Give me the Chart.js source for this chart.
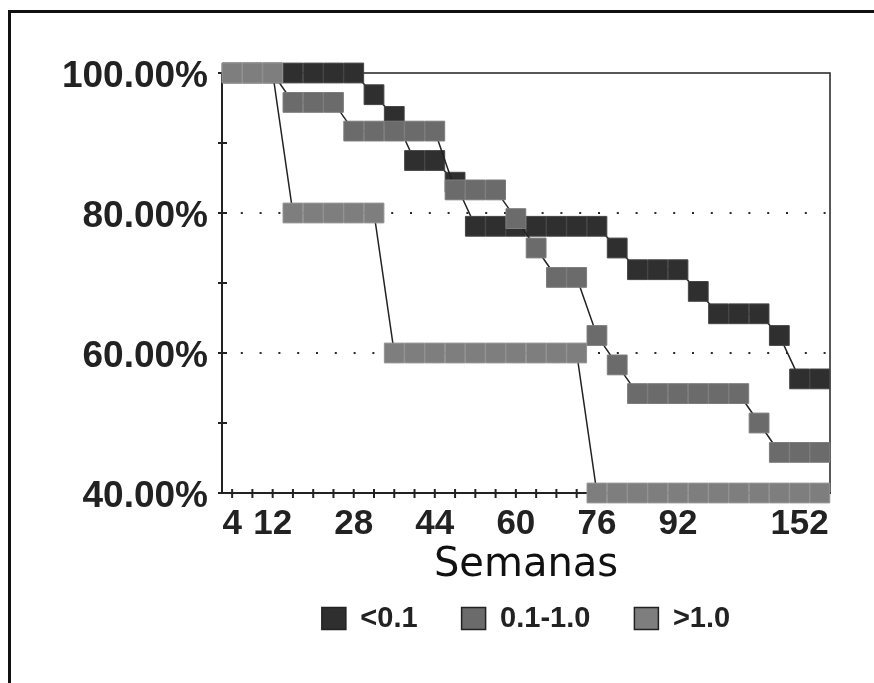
<!DOCTYPE html>
<html><head><meta charset="utf-8">
<script src="https://cdn.jsdelivr.net/npm/chart.js@4.4.1/dist/chart.umd.min.js"></script>
<style>
html,body{margin:0;padding:0;background:#fff;}
#wrap{position:relative;width:874px;height:683px;overflow:hidden;background:#fff;}
#c{position:absolute;left:0;top:0;}
#frame{position:absolute;left:8px;top:10px;width:900px;height:700px;border-top:3px solid #111;border-left:3px solid #111;pointer-events:none;}
</style></head><body>
<div id="wrap"><canvas id="c" width="874" height="683"></canvas><div id="frame"></div></div>
<script>
// Categories (weeks) and tick labels
const weeks = [4,8,12,16,20,24,28,32,36,40,44,48,52,56,60,64,68,72,76,80,84,88,92,102,112,122,132,142,152,162];
const xLabelsShown = ['4','12','28','44','60','76','92','152'];
const yLabelsShown = [40,60,80,100];
const dottedLevels = [60,80];
const seriesNames = ['<0.1','0.1-1.0','>1.0'];

// Series values (% remaining)
const lt01 = [100,100,100,100,100,100,100,96.9,93.8,87.5,87.5,84.4,78.1,78.1,78.1,78.1,78.1,78.1,78.1,75,71.9,71.9,71.9,68.8,65.6,65.6,65.6,62.5,56.3,56.3];
const mid  = [100,100,100,95.8,95.8,95.8,91.7,91.7,91.7,91.7,91.7,83.3,83.3,83.3,79.2,75,70.8,70.8,62.5,58.3,54.2,54.2,54.2,54.2,54.2,54.2,50,45.8,45.8,45.8];
const gt1  = [100,100,100,80,80,80,80,80,60,60,60,60,60,60,60,60,60,60,40,40,40,40,40,40,40,40,40,40,40,40];

function ds(label, data, fill, edge, order) {
  return {
    label, data, order,
    borderColor: '#222', borderWidth: 1.5,
    backgroundColor: fill, pointBackgroundColor: fill,
    pointBorderColor: edge, pointBorderWidth: 1,
    pointStyle: 'rect', pointRadius: 14, pointHoverRadius: 14,
    tension: 0, fill: false, clip: false
  };
}

const decor = {
  id: 'decor',
  beforeDatasetsDraw(chart) {
    const {ctx, chartArea: a, scales: {x, y}} = chart;
    ctx.save();
    ctx.strokeStyle = '#2a2a2a';
    ctx.lineWidth = 2;
    ctx.setLineDash([2, 16.8]);
    dottedLevels.forEach(v => {
      const py = y.getPixelForValue(v);
      ctx.beginPath(); ctx.moveTo(a.left, py); ctx.lineTo(a.right, py); ctx.stroke();
    });
    ctx.setLineDash([]);
    ctx.strokeStyle = '#222';
    ctx.lineWidth = 1.5;
    ctx.beginPath(); ctx.moveTo(a.left, a.top); ctx.lineTo(a.right, a.top); ctx.lineTo(a.right, a.bottom); ctx.stroke();
    ctx.lineWidth = 2;
    x.ticks.forEach((t, i) => {
      const px = x.getPixelForTick(i);
      ctx.beginPath(); ctx.moveTo(px, a.bottom - 4); ctx.lineTo(px, a.bottom + 5); ctx.stroke();
    });
    y.ticks.forEach((t, i) => {
      const py = y.getPixelForTick(i);
      ctx.beginPath(); ctx.moveTo(a.left - 4, py); ctx.lineTo(a.left + 5, py); ctx.stroke();
    });
    ctx.restore();
  }
};

new Chart(document.getElementById('c'), {
  type: 'line',
  data: {
    labels: weeks.map(String),
    datasets: [
      ds(seriesNames[0], lt01, '#2f2f2f', '#454545', 3),
      ds(seriesNames[1], mid, '#6b6b6b', '#7d7d7d', 2),
      ds(seriesNames[2], gt1, '#7e7e7e', '#929292', 1)
    ]
  },
  options: {
    responsive: false,
    animation: false,
    devicePixelRatio: 1,
    layout: {padding: {left: 10, right: 44, top: 73, bottom: 40}},
    plugins: {
      legend: {
        position: 'bottom',
        fullSize: false,
        labels: {
          font: {family: 'Liberation Sans', weight: 'bold', size: 29},
          color: '#222', boxWidth: 24, boxHeight: 22, padding: 44,
          sort: (a, b) => a.datasetIndex - b.datasetIndex
        }
      },
      tooltip: {enabled: false}
    },
    scales: {
      x: {
        type: 'category',
        offset: true,
        grid: {display: false, drawTicks: false},
        border: {display: true, color: '#222', width: 2},
        ticks: {
          autoSkip: false, maxRotation: 0, minRotation: 0, padding: 10, color: '#222',
          font: {family: 'Liberation Sans', weight: 'bold', size: 35},
          callback: function(val) { const lab = this.getLabelForValue(val); return xLabelsShown.includes(lab) ? lab : ''; }
        },
        title: {display: true, text: 'Semanas', color: '#111', font: {family: 'DejaVu Sans', size: 40}, padding: {top: 0, bottom: -30}},
        afterFit(s) { s.height = 67; }
      },
      y: {
        min: 40, max: 100,
        grid: {display: false, drawTicks: false},
        border: {display: true, color: '#222', width: 2},
        ticks: {
          stepSize: 10, padding: 14, labelOffset: 4, color: '#222',
          font: {family: 'Liberation Sans', weight: 'bold', size: 37},
          callback: v => yLabelsShown.includes(v) ? v.toFixed(2) + '%' : ''
        },
        afterFit(s) { s.width = 212; }
      }
    }
  },
  plugins: [decor]
});
</script>
</body></html>
